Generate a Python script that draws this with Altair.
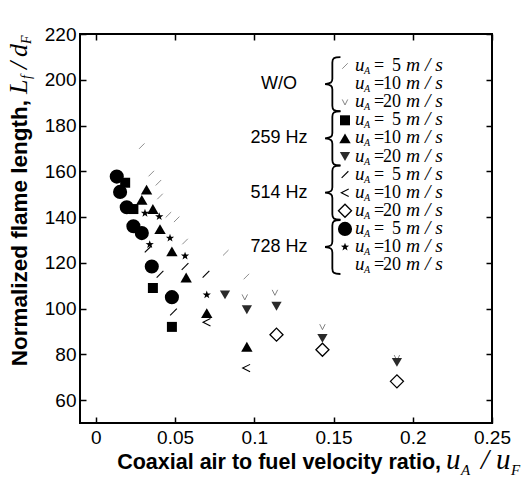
import altair as alt
import pandas as pd

# ---------------- values ----------------
x_ticks = [0, 0.05, 0.1, 0.15, 0.2, 0.25]
y_ticks = [60, 80, 100, 120, 140, 160, 180, 200, 220]

# without excitation (W/O) - faint marks
wo_u5_x = [0.029, 0.035, 0.0395, 0.0405, 0.0458]
wo_u5_y = [171, 159, 155, 149, 141]
wo_u10_x = [0.051, 0.0563, 0.082, 0.095]
wo_u10_y = [139, 129.3, 124.4, 114]
wo_u20_x = [0.094, 0.113, 0.143, 0.190]
wo_u20_y = [105, 107, 92, 78.5]

# 259 Hz
f259_u5_x = [0.0185, 0.0237, 0.036, 0.048]
f259_u5_y = [155, 143.5, 109, 92]
f259_u10_x = [0.029, 0.032, 0.036, 0.0405, 0.048, 0.057, 0.070, 0.0953]
f259_u10_y = [147.5, 152, 143.5, 134.7, 125, 113.6, 98, 83.3]
f259_u20_x = [0.0815, 0.0953, 0.114, 0.143, 0.190]
f259_u20_y = [106, 99.5, 101, 87, 76.5]

# 514 Hz
f514_u5_x = [0.033, 0.0405, 0.049, 0.0563, 0.0695]
f514_u5_y = [126, 115, 98.5, 118.4, 115]
f514_u10_x = [0.070, 0.095]
f514_u10_y = [94, 74]
f514_u20_x = [0.114, 0.143, 0.190]
f514_u20_y = [88.6, 82, 68.2]

# 728 Hz
f728_u5_x = [0.0132, 0.0153, 0.0195, 0.0237, 0.029, 0.0353, 0.048]
f728_u5_y = [157.7, 151, 144.3, 136, 133, 118.4, 105]
f728_u10_x = [0.031, 0.040, 0.034, 0.0468, 0.0563, 0.070]
f728_u10_y = [141.7, 140.2, 128, 130.8, 123, 106]

group_labels = ["W/O", "259 Hz", "514 Hz", "728 Hz"]
speed_labels = ["5", "10", "20"]

# ---------------- layout ----------------
L, T, W, H = 80, 34, 412, 389
XMIN, XMAX, YMIN, YMAX = -0.01, 0.25, 50, 220
XS = alt.Scale(domain=[XMIN, XMAX], nice=False, zero=False)
YS = alt.Scale(domain=[YMIN, YMAX], nice=False, zero=False)


def dx(px):
    return XMIN + (px - L) * (XMAX - XMIN) / W


def dy(py):
    return YMAX - (py - T) * (YMAX - YMIN) / H


SLASH = "M -1 1 L 1 -1"
LESS = "M 1 -1 L -1 0 L 1 1"
VEE = "M -1 -1 L 0 1 L 1 -1"
STAR = ("M 0 -1 L 0.235 -0.324 L 0.951 -0.309 L 0.38 0.124 L 0.588 0.809 "
        "L 0 0.4 L -0.588 0.809 L -0.38 0.124 L -0.951 -0.309 L -0.235 -0.324 Z")
BRACE = ("M 0.35 -1 C 0.1 -1 0.05 -0.95 0.05 -0.8 L 0.05 -0.2 "
         "C 0.05 -0.07 0 -0.02 -0.22 0 C 0 0.02 0.05 0.07 0.05 0.2 "
         "L 0.05 0.8 C 0.05 0.95 0.1 1 0.35 1")

STYLES = {
    "wo5": dict(shape=SLASH, size=30, filled=False, stroke="black", strokeWidth=0.8, opacity=0.55),
    "wo10": dict(shape=SLASH, size=30, filled=False, stroke="black", strokeWidth=0.8, opacity=0.55),
    "wo20": dict(shape=VEE, size=30, filled=False, stroke="black", strokeWidth=0.8, opacity=0.6),
    "sq": dict(shape="square", size=100, filled=True, fill="black", strokeWidth=0, opacity=1),
    "tri": dict(shape="triangle-up", size=130, filled=True, fill="black", strokeWidth=0, opacity=1),
    "inv": dict(shape="triangle-down", size=105, filled=True, fill="#2a2a2a", strokeWidth=0, opacity=1),
    "sl": dict(shape=SLASH, size=45, filled=False, stroke="black", strokeWidth=1.1, opacity=1),
    "lt": dict(shape=LESS, size=55, filled=False, stroke="black", strokeWidth=1.1, opacity=1),
    "dia": dict(shape="diamond", size=170, filled=False, stroke="black", strokeWidth=1.3, opacity=1),
    "cir": dict(shape="circle", size=200, filled=True, fill="black", strokeWidth=0, opacity=1),
    "star": dict(shape=STAR, size=75, filled=True, fill="black", strokeWidth=0, opacity=1),
    "brace": dict(shape=BRACE, size=2916, filled=False, stroke="black", strokeWidth=1.8, opacity=1),
}


def pts(xv, yv, style):
    df = pd.DataFrame({"x": xv, "y": yv})
    return alt.Chart(df).mark_point(**STYLES[style]).encode(
        x=alt.X("x:Q", scale=XS, axis=None),
        y=alt.Y("y:Q", scale=YS, axis=None),
    )


def txt(xv, yv, texts, **style):
    df = pd.DataFrame({"x": xv, "y": yv, "t": texts})
    return alt.Chart(df).mark_text(**style).encode(
        x=alt.X("x:Q", scale=XS, axis=None),
        y=alt.Y("y:Q", scale=YS, axis=None),
        text="t:N",
    )


def ptext(text, px, py, **style):
    return alt.Chart(pd.DataFrame({"a": [0]})).mark_text(text=text, **style).encode(
        x=alt.value(px - L), y=alt.value(py - T))


common = dict(grid=False, domain=False, tickColor="black", tickWidth=1.5,
              tickSize=6, offset=-6, title=None, labelColor="black",
              labelFont="Liberation Sans", labelFontSize=19,
              labelFlush=False, labelOverlap=False)
ax_bottom = alt.Axis(orient="bottom", values=x_ticks, format="~g", labelPadding=5, **common)
ax_left = alt.Axis(orient="left", values=y_ticks, format="d", labelPadding=4, **common)
ax_top = alt.Axis(orient="top", values=x_ticks, labels=False, **common)
ax_right = alt.Axis(orient="right", values=y_ticks, labels=False, **common)


def axis_layer(xa, ya):
    df = pd.DataFrame({"x": [XMIN], "y": [YMIN]})
    return alt.Chart(df).mark_point(opacity=0).encode(
        x=alt.X("x:Q", scale=XS, axis=xa),
        y=alt.Y("y:Q", scale=YS, axis=ya),
    )


layers = [axis_layer(ax_bottom, ax_left), axis_layer(ax_top, ax_right)]

# data series
layers += [
    pts(wo_u5_x, wo_u5_y, "wo5"),
    pts(wo_u10_x, wo_u10_y, "wo10"),
    pts(wo_u20_x, wo_u20_y, "wo20"),
    pts(f514_u5_x, f514_u5_y, "sl"),
    pts(f514_u10_x, f514_u10_y, "lt"),
    pts(f514_u20_x, f514_u20_y, "dia"),
    pts(f259_u20_x, f259_u20_y, "inv"),
    pts(f259_u10_x, f259_u10_y, "tri"),
    pts(f259_u5_x, f259_u5_y, "sq"),
    pts(f728_u10_x, f728_u10_y, "star"),
    pts(f728_u5_x, f728_u5_y, "cir"),
]

# ---------------- legend ----------------
R0, DY = 66, 18.1
rows = [R0 + i * DY for i in range(12)]
leg_styles = ["wo5", "wo10", "wo20", "sq", "tri", "inv", "sl", "lt", "dia", "cir", "star", None]
for i, st in enumerate(leg_styles):
    if st is None or i == 1:
        continue
    layers.append(pts([dx(345)], [dy(rows[i])], st))

grp_rows = [rows[1], rows[4], rows[7], rows[10]]
layers.append(pts([dx(331)] * 4, [dy(r) for r in grp_rows], "brace"))
layers.append(txt([dx(279)] * 4, [dy(r) for r in grp_rows], group_labels,
                  font="Liberation Sans", fontSize=18, align="center",
                  baseline="middle", color="black"))

ser = dict(font="Liberation Serif", color="black", baseline="alphabetic")
lab = [speed_labels[i % 3] for i in range(12)]
layers.append(txt([dx(355)] * 12, [dy(r + 5) for r in rows], ["u"] * 12,
                  fontSize=19, fontStyle="italic", align="left", **ser))
layers.append(txt([dx(364)] * 12, [dy(r + 8) for r in rows], ["A"] * 12,
                  fontSize=10, fontStyle="italic", align="left", **ser))
layers.append(txt([dx(374)] * 12, [dy(r + 5) for r in rows], ["="] * 12,
                  fontSize=18, align="left", **ser))
layers.append(txt([dx(401)] * 12, [dy(r + 5) for r in rows], lab,
                  fontSize=18, align="right", **ser))
layers.append(txt([dx(406)] * 12, [dy(r + 5) for r in rows], ["m / s"] * 12,
                  fontSize=19.5, fontStyle="italic", align="left", **ser))

# ---------------- axis titles ----------------
bold = dict(font="Liberation Sans", fontWeight="bold", color="black")
mathf = dict(font="Liberation Serif", fontStyle="italic", color="black")
layers += [
    ptext("Coaxial air to fuel velocity ratio,", 441, 469, align="right",
          baseline="alphabetic", fontSize=21.5, **bold),
    ptext("u", 446, 469, align="left", baseline="alphabetic", fontSize=29, **mathf),
    ptext("A", 461, 475, align="left", baseline="alphabetic", fontSize=15, **mathf),
    ptext("/", 481, 469, align="left", baseline="alphabetic", fontSize=29, **mathf),
    ptext("u", 496, 469, align="left", baseline="alphabetic", fontSize=29, **mathf),
    ptext("F", 511, 475, align="left", baseline="alphabetic", fontSize=15, **mathf),
    ptext("Normalized flame length,", 27, 100, align="right", baseline="alphabetic",
          angle=270, fontSize=22.5, **bold),
    ptext("L", 27, 94, align="left", baseline="alphabetic", angle=270, fontSize=26, **mathf),
    ptext("f", 31, 79, align="left", baseline="alphabetic", angle=270, fontSize=14, **mathf),
    ptext("/", 27, 69, align="left", baseline="alphabetic", angle=270, fontSize=26, **mathf),
    ptext("d", 27, 57, align="left", baseline="alphabetic", angle=270, fontSize=26, **mathf),
    ptext("F", 31, 44, align="left", baseline="alphabetic", angle=270, fontSize=14, **mathf),
]

chart = alt.layer(*layers).properties(
    width=W, height=H,
    autosize=alt.AutoSizeParams(type="none"),
    padding={"left": L, "top": T, "right": 531 - L - W, "bottom": 481 - T - H},
).configure_view(stroke="black", strokeWidth=2)

chart.save("out.html", embed_options={"renderer": "svg", "actions": False})
